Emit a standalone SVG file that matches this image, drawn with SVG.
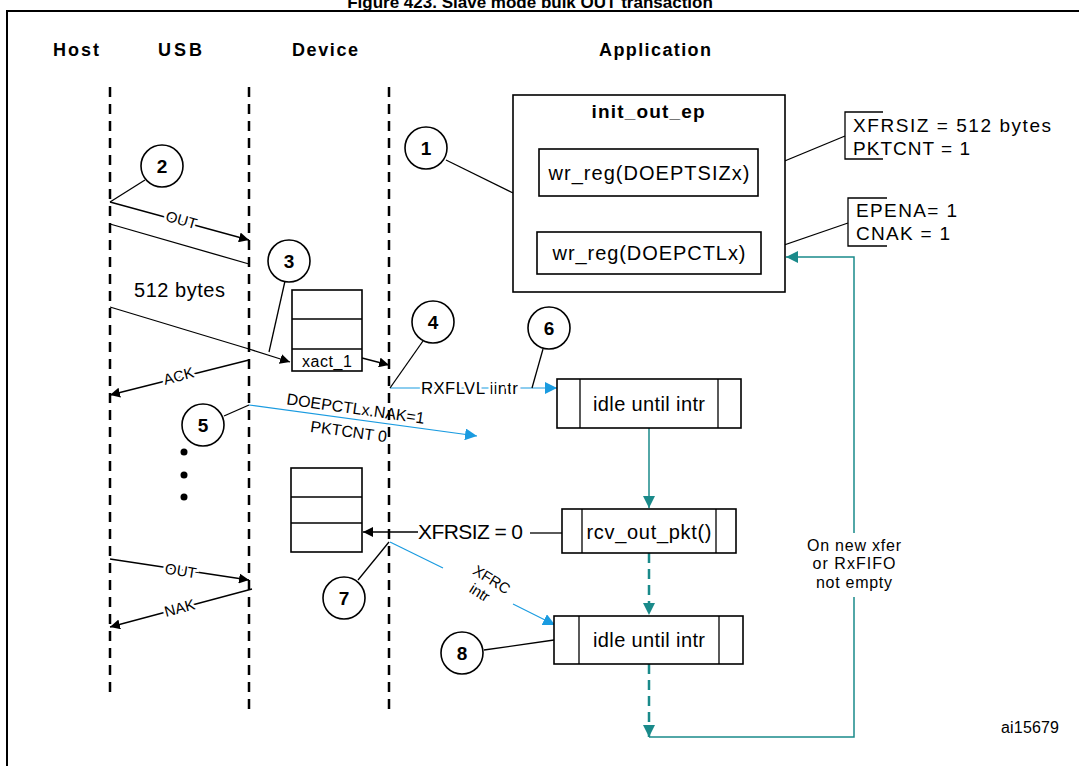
<svg xmlns="http://www.w3.org/2000/svg" width="1079" height="766" viewBox="0 0 1079 766">
<defs>
<style>
text{font-family:"Liberation Sans",Arial,sans-serif;fill:#000}
.h{font-weight:bold;font-size:18px;text-anchor:middle}
.n{font-weight:bold;font-size:19px;text-anchor:middle}
.c{fill:#fff;stroke:#000;stroke-width:1.6}
.b{fill:#fff;stroke:#000;stroke-width:1.6}
.k{stroke:#000;stroke-width:1.3;fill:none}
.life{stroke:#000;stroke-width:2.5;stroke-dasharray:10,7;fill:none}
.blue{stroke:#1a9be0;stroke-width:1.2;fill:none}
.teal{stroke:#1a8a8a;stroke-width:1.5;fill:none}
.tdash{stroke:#1a8a8a;stroke-width:2.5;stroke-dasharray:10,6;fill:none}
.lb{stroke:#fff;stroke-width:5;paint-order:stroke}
</style>
<marker id="ak" viewBox="0 0 10 10" refX="10" refY="5" markerWidth="10" markerHeight="10" markerUnits="userSpaceOnUse" orient="auto"><path d="M0,0L10,5L0,10z" fill="#000"/></marker>
<marker id="ab" viewBox="0 0 10 10" refX="10" refY="5" markerWidth="12" markerHeight="12" markerUnits="userSpaceOnUse" orient="auto"><path d="M0,0L10,5L0,10z" fill="#1a9be0"/></marker>
<marker id="at" viewBox="0 0 10 10" refX="10" refY="5" markerWidth="12" markerHeight="12" markerUnits="userSpaceOnUse" orient="auto"><path d="M0,0L10,5L0,10z" fill="#1a8a8a"/></marker>
</defs>
<rect width="1079" height="766" fill="#fff"/>
<text x="530" y="8" font-size="17" font-weight="bold" text-anchor="middle">Figure 423. Slave mode bulk OUT transaction</text>
<path d="M7,766V11H1079" stroke="#000" stroke-width="2" fill="none"/>

<g id="headers">
<text class="h" x="76" y="56" textLength="46">Host</text>
<text class="h" x="180" y="56" textLength="44">USB</text>
<text class="h" x="325" y="56" textLength="66">Device</text>
<text class="h" x="655" y="56" textLength="112">Application</text>
</g>

<g id="lifelines">
<line class="life" x1="110" y1="87" x2="110" y2="698"/>
<line class="life" x1="249" y1="87" x2="249" y2="712"/>
<line class="life" x1="389" y1="87" x2="389" y2="712"/>
</g>

<g id="connectors">
<line class="k" x1="110" y1="202" x2="249" y2="240" marker-end="url(#ak)"/>
<line class="k" x1="110" y1="224" x2="249" y2="264"/>
<line class="k" x1="110" y1="307" x2="249" y2="349"/>
<line class="k" x1="249" y1="349" x2="290" y2="362" marker-end="url(#ak)"/>
<line class="k" x1="362" y1="358" x2="389" y2="365" marker-end="url(#ak)"/>
<line class="k" x1="249" y1="360" x2="110" y2="395" marker-end="url(#ak)"/>
<line class="k" x1="110" y1="559" x2="249" y2="580" marker-end="url(#ak)"/>
<line class="k" x1="252" y1="589" x2="110" y2="627" marker-end="url(#ak)"/>
<line class="k" x1="418" y1="532" x2="363" y2="532" marker-end="url(#ak)"/>
<line class="k" x1="530" y1="533" x2="562" y2="533"/>
<line class="blue" x1="390" y1="388" x2="557" y2="388" marker-end="url(#ab)"/>
<line class="blue" x1="249" y1="405" x2="477" y2="436" marker-end="url(#ab)"/>
<line class="blue" x1="390" y1="542" x2="443" y2="568"/>
<line class="blue" x1="513" y1="604" x2="555" y2="625" marker-end="url(#ab)"/>
<line class="teal" x1="649" y1="196" x2="649" y2="231" marker-end="url(#at)"/>
<line class="teal" x1="649" y1="428" x2="649" y2="508" marker-end="url(#at)"/>
<line class="tdash" x1="649" y1="553" x2="649" y2="615" marker-end="url(#at)"/>
<line class="tdash" x1="649" y1="664" x2="649" y2="737" marker-end="url(#at)"/>
<path class="teal" d="M649,737H854V597M854,533V257H786" marker-end="url(#at)"/>
<line class="k" x1="758" y1="172" x2="845" y2="136"/>
<line class="k" x1="761" y1="253" x2="848" y2="223"/>
<line class="k" x1="446" y1="160" x2="513" y2="193"/>
<line class="k" x1="145" y1="180" x2="110" y2="202"/>
<line class="k" x1="285" y1="281" x2="269" y2="352"/>
<line class="k" x1="423" y1="341" x2="390" y2="388"/>
<line class="k" x1="543" y1="349" x2="532" y2="388"/>
<line class="k" x1="224" y1="416" x2="249" y2="405"/>
<line class="k" x1="358" y1="580" x2="389" y2="542"/>
<line class="k" x1="484" y1="650" x2="554" y2="640"/>
</g>

<g id="labels">
<text class="lb" transform="translate(180,225) rotate(16)" text-anchor="middle" font-size="15">OUT</text>
<text class="lb" transform="translate(180,381) rotate(-15)" text-anchor="middle" font-size="15">ACK</text>
<text class="lb" transform="translate(180,576) rotate(9)" text-anchor="middle" font-size="15">OUT</text>
<text class="lb" transform="translate(181,613) rotate(-15)" text-anchor="middle" font-size="15">NAK</text>
<text x="134" y="297" font-size="20" textLength="91">512 bytes</text>
<text class="lb" x="421" y="394" font-size="17" textLength="97">RXFLVL iintr</text>
<text transform="translate(355,414) rotate(8)" text-anchor="middle" font-size="16">DOEPCTLx.NAK=1</text>
<text transform="translate(348,437) rotate(8)" text-anchor="middle" font-size="16">PKTCNT 0</text>
<text x="418" y="539" font-size="21" textLength="105">XFRSIZ = 0</text>
<text transform="translate(489,584) rotate(32)" text-anchor="middle" font-size="15">XFRC</text>
<text transform="translate(477,597) rotate(32)" text-anchor="middle" font-size="15">intr</text>
<text x="854" y="551" text-anchor="middle" font-size="16" textLength="94">On new xfer</text>
<text x="854" y="569" text-anchor="middle" font-size="16" textLength="83">or RxFIFO</text>
<text x="854" y="588" text-anchor="middle" font-size="16" textLength="76">not empty</text>
<text x="1001" y="733" font-size="16" textLength="58">ai15679</text>
</g>

<g id="dots">
<circle cx="184" cy="452" r="3.5"/><circle cx="184" cy="475" r="3.5"/><circle cx="184" cy="497" r="3.5"/>
</g>

<g id="fifo1">
<rect class="b" x="292" y="290" width="70" height="81"/>
<line class="k" x1="292" y1="319" x2="362" y2="319"/><line class="k" x1="292" y1="349" x2="362" y2="349"/>
<text x="327" y="367" text-anchor="middle" font-size="16" textLength="50">xact_1</text>
</g>
<g id="fifo2">
<rect class="b" x="291" y="468" width="71" height="84"/>
<line class="k" x1="291" y1="497" x2="362" y2="497"/><line class="k" x1="291" y1="523" x2="362" y2="523"/>
</g>

<g id="init_out_ep">
<rect class="b" x="513" y="95" width="272" height="197"/>
<text x="648" y="118" text-anchor="middle" font-weight="bold" font-size="19" textLength="113">init_out_ep</text>
</g>
<g id="wr_tsiz"><rect class="b" x="539" y="149" width="219" height="47"/><text x="649" y="180" text-anchor="middle" font-size="20" textLength="201">wr_reg(DOEPTSIZx)</text></g>
<g id="wr_ctl"><rect class="b" x="537" y="232" width="224" height="42"/><text x="649" y="260" text-anchor="middle" font-size="20" textLength="193">wr_reg(DOEPCTLx)</text></g>

<g id="note1">
<path class="k" d="M883,112H845V159H883"/>
<text x="853" y="132" font-size="19" textLength="198">XFRSIZ   = 512 bytes</text>
<text x="853" y="155" font-size="19" textLength="117">PKTCNT = 1</text>
</g>
<g id="note2">
<path class="k" d="M887,198H848V246H887"/>
<text x="856" y="217" font-size="19" textLength="101">EPENA= 1</text>
<text x="856" y="240" font-size="19" textLength="94">CNAK = 1</text>
</g>

<g id="idle1"><rect class="b" x="557" y="379" width="184" height="49"/><line class="k" x1="580" y1="379" x2="580" y2="428"/><line class="k" x1="718" y1="379" x2="718" y2="428"/><text x="649" y="411" text-anchor="middle" font-size="20" textLength="112">idle until intr</text></g>
<g id="rcv"><rect class="b" x="562" y="509" width="174" height="44"/><line class="k" x1="582" y1="509" x2="582" y2="553"/><line class="k" x1="716" y1="509" x2="716" y2="553"/><text x="649" y="539" text-anchor="middle" font-size="20" textLength="125">rcv_out_pkt()</text></g>
<g id="idle2"><rect class="b" x="554" y="616" width="189" height="48"/><line class="k" x1="579" y1="616" x2="579" y2="664"/><line class="k" x1="719" y1="616" x2="719" y2="664"/><text x="649" y="647" text-anchor="middle" font-size="20" textLength="112">idle until intr</text></g>

<g id="c1"><circle class="c" cx="426" cy="148" r="21"/><text class="n" x="426" y="155">1</text></g>
<g id="c2"><circle class="c" cx="162" cy="166" r="21"/><text class="n" x="162" y="173">2</text></g>
<g id="c3"><circle class="c" cx="289" cy="261" r="21"/><text class="n" x="289" y="268">3</text></g>
<g id="c4"><circle class="c" cx="433" cy="322" r="21"/><text class="n" x="433" y="329">4</text></g>
<g id="c5"><circle class="c" cx="203" cy="425" r="21"/><text class="n" x="203" y="432">5</text></g>
<g id="c6"><circle class="c" cx="549" cy="328" r="21"/><text class="n" x="549" y="335">6</text></g>
<g id="c7"><circle class="c" cx="344" cy="598" r="21"/><text class="n" x="344" y="605">7</text></g>
<g id="c8"><circle class="c" cx="462" cy="653" r="21"/><text class="n" x="462" y="660">8</text></g>
</svg>
